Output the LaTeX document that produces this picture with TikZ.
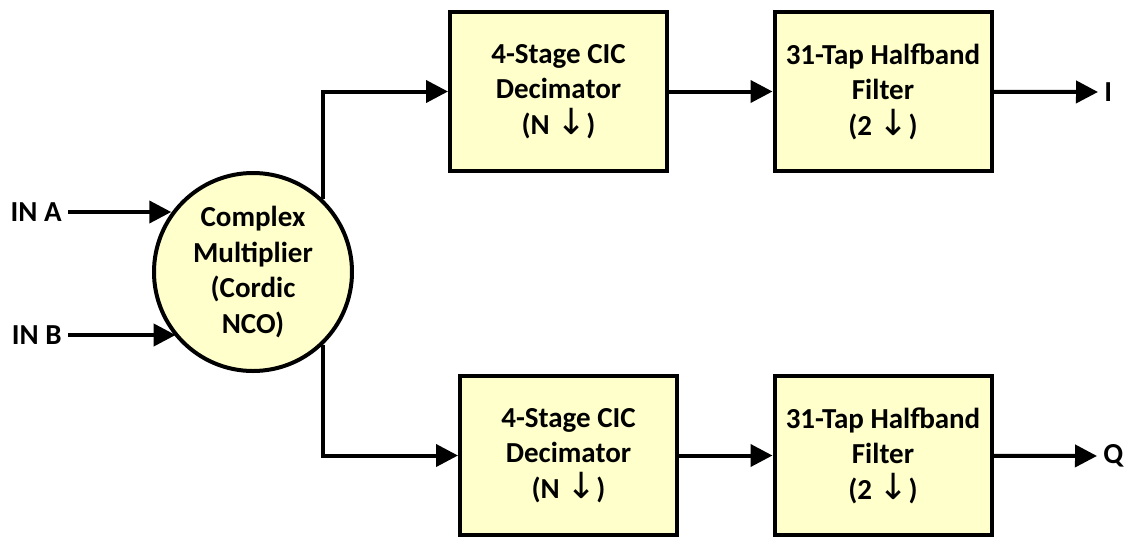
\documentclass[tikz,border=0pt]{standalone}
\usepackage{fontspec}
\setmainfont{Carlito}
\newfontfamily\arrowfont{DejaVu Sans}
\usetikzlibrary{arrows.meta}
\definecolor{BlockYellow}{RGB}{255,255,204}
\newcommand{\dn}{{\arrowfont\mdseries\fontsize{18}{17.5}\selectfont ↓}}

\begin{document}
\begin{tikzpicture}[x=0.5pt, y=-0.5pt,
		font=\fontsize{14.5}{17.8}\selectfont\bfseries,
		block/.style={draw, line width=2pt, fill=BlockYellow, align=center,
			minimum width=108.5pt, minimum height=79.5pt, inner sep=0pt},
		mixer/.style={draw, circle, line width=2pt, fill=BlockYellow, align=center,
			minimum size=99pt, inner sep=0pt},
		sig/.style={line width=2pt, -{Triangle[length=11pt, width=11pt]}},
		port/.style={inner sep=3pt}]
		\useasboundingbox (0,0) rectangle (1136,537);
		
		% 混频器
		\node[mixer] (mult) at (253,272) {Complex\\Multiplier\\(Cordic\\NCO)};
		
		% 输入信号
		\node[port, anchor=east] (ina) at (68,212) {IN A};
		\node[port, anchor=east] (inb) at (68,335) {IN B};
		\draw[sig] (ina) -- (ina -| mult.144);
		\draw[sig] (inb) -- (inb -| mult.220);
		
		% I 支路
		\node[block] (cic1) at (558.5,91.5) {4-Stage CIC\\Decimator\\(N \dn)};
		\node[block] (hb1) at (883,91.5) {31-Tap Halfband\\Filter\\(2 \dn)};
		\node[port, anchor=west] (outi) at (1098,92) {I};
		\draw[sig] (mult.46) |- (cic1);
		\draw[sig] (cic1) -- (hb1);
		\draw[sig] (hb1) -- (outi);
		
		% Q 支路
		\node[block] (cic2) at (568.5,455.5) {4-Stage CIC\\Decimator\\(N \dn)};
		\node[block] (hb2) at (883,455.5) {31-Tap Halfband\\Filter\\(2 \dn)};
		\node[port, anchor=west] (outq) at (1097,456) {Q};
		\draw[sig] (mult.-46) |- (cic2);
		\draw[sig] (cic2) -- (hb2);
		\draw[sig] (hb2) -- (outq);
	\end{tikzpicture}
\end{document}
